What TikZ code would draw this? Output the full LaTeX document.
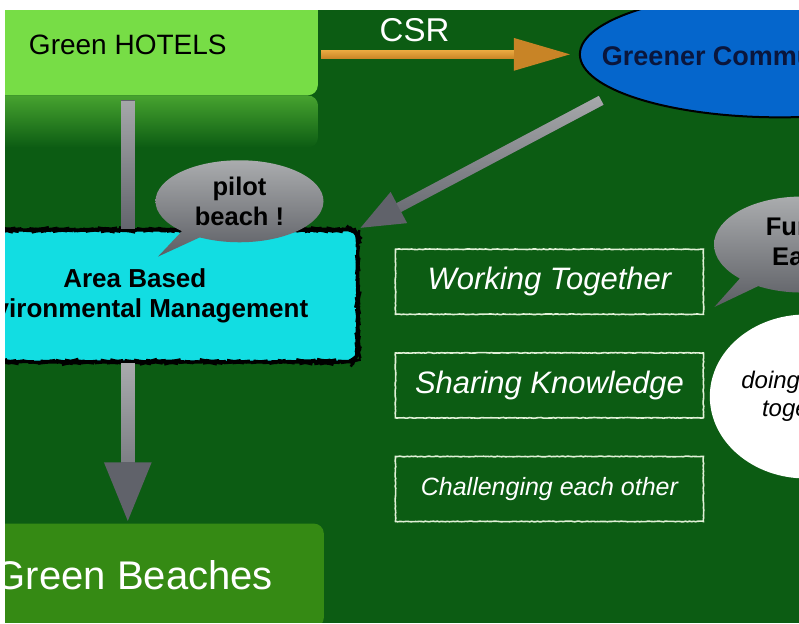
\documentclass[tikz,border=0pt]{standalone}
\usepackage{fontspec}
\setmainfont{Liberation Sans}
\usetikzlibrary{positioning}
\usetikzlibrary{arrows.meta,shapes.geometric,shapes.callouts,decorations.pathmorphing,fadings}

\definecolor{bggreen}{RGB}{12,92,19}
\definecolor{hotelgreen}{RGB}{119,221,70}
\definecolor{beachgreen}{RGB}{53,138,20}
\definecolor{areacyan}{RGB}{18,221,226}
\definecolor{commblue}{RGB}{5,102,204}
\definecolor{commtext}{RGB}{10,22,60}
\definecolor{csrorange}{RGB}{200,132,38}
\definecolor{csrlight}{RGB}{236,172,66}
\definecolor{graydark}{RGB}{96,98,106}
\definecolor{graylight}{RGB}{172,174,176}
\definecolor{bubbletop}{RGB}{170,172,174}
\definecolor{bubblebot}{RGB}{92,94,100}
\definecolor{chalk}{RGB}{225,240,215}

\begin{document}
\begin{tikzpicture}[x=1.00629pt, y=-1.00629pt,
    greenbox/.style={rectangle, rounded corners=10pt, inner sep=0pt},
    chalkbox/.style={rectangle, draw=chalk, line width=1.6pt, text=white,
      minimum width=308pt, minimum height=65pt,
      decorate, decoration={random steps, segment length=2pt, amplitude=0.35pt}},
    bubble/.style={ellipse callout, top color=bubbletop, bottom color=bubblebot,
      align=center, inner sep=0pt, font=\fontsize{25.5}{30}\selectfont\bfseries},
    graylink/.style n args={2}{draw=graydark, line width=#1,
      postaction={draw=graylight, path fading=south, arrows=-, shorten >=#2}},
    node distance=37pt,
  ]
  \useasboundingbox (0,0) rectangle (794,620);
  \fill[bggreen] (5,10) rectangle (794,619);
  \begin{scope}
    \clip (5,10) rectangle (794,619);
    % Nodes
    \node[greenbox, fill=hotelgreen, minimum width=380pt, minimum height=100pt,
      font=\fontsize{28}{32}\selectfont] (hotels) at (127,45) {Green HOTELS};
    \shade[top color=hotelgreen!55!bggreen, bottom color=bggreen, rounded corners=10pt]
      (hotels.south west) rectangle ([yshift=-52pt]hotels.south east);
    \node[ellipse, draw=black, line width=2pt, fill=commblue,
      minimum width=400pt, minimum height=126pt] (community) at (775,54) {};
    \node[anchor=west, inner sep=0pt, text=commtext,
      font=\fontsize{27}{30}\selectfont\bfseries] (commlabel) at (598,55) {Greener Communities};
    \node[greenbox, fill=areacyan, draw=black, line width=2.5pt,
      minimum width=446pt, minimum height=132pt, align=center,
      decorate, decoration={random steps, segment length=3pt, amplitude=0.5pt},
      font=\fontsize{26}{30}\selectfont\bfseries] (area) at (134,294) {Area Based\\Environmental Management};
    \node[greenbox, fill=beachgreen, minimum width=374pt, minimum height=104pt] (beaches) at (136,572) {};
    \node[text=white, font=\fontsize{40}{44}\selectfont] (beachlabel) at (133,572) {Green Beaches};

    \node[chalkbox, font=\fontsize{31}{36}\selectfont\itshape] (working) at (546,280) {Working Together};
    \node[chalkbox, font=\fontsize{31}{36}\selectfont\itshape, below=of working] (sharing) {Sharing Knowledge};
    \node[chalkbox, font=\fontsize{25}{30}\selectfont\itshape, below=of sharing] (challenging) {Challenging each other};

    \node[ellipse, fill=white, minimum width=184pt, minimum height=164pt, align=center,
      font=\fontsize{24}{28}\selectfont\itshape] (doing) at (801,394) {doing things\\together};

    % Lines
    \draw[draw=csrorange, line width=9pt, postaction={draw=csrlight, path fading=south, arrows=-, shorten >=65pt},
      -{Triangle[length=58pt, width=30pt]}, shorten <=3pt, shorten >=7pt]
      (hotels.east |- community.west) -- (community.west)
      node[pos=0.37, above=5pt, white, font=\fontsize{33}{36}\selectfont] (csr) {CSR};
    \draw[graylink={10pt}{45pt}, -{Triangle[length=45pt, width=32pt]}, shorten <=18pt]
      (community.193) -- (area.north east);
    \draw[graylink={14pt}{0pt}, shorten <=5pt]
      (hotels.south) -- (hotels.south |- area.north);
    \draw[graylink={14pt}{61pt}, -{Triangle[length=61pt, width=43pt]}]
      (hotels.south |- area.south) -- (hotels.south |- beaches.north);

    % Bubbles
    \node[bubble, minimum width=168pt, minimum height=82pt,
      callout absolute pointer={(157,255)}] (pilot) at (238,200) {pilot\\beach !};
    \node[bubble, minimum width=176pt, minimum height=96pt,
      callout absolute pointer={(710,305)}] (fun) at (797,243) {Fun \&\\Easy};
  \end{scope}
\end{tikzpicture}
\end{document}
